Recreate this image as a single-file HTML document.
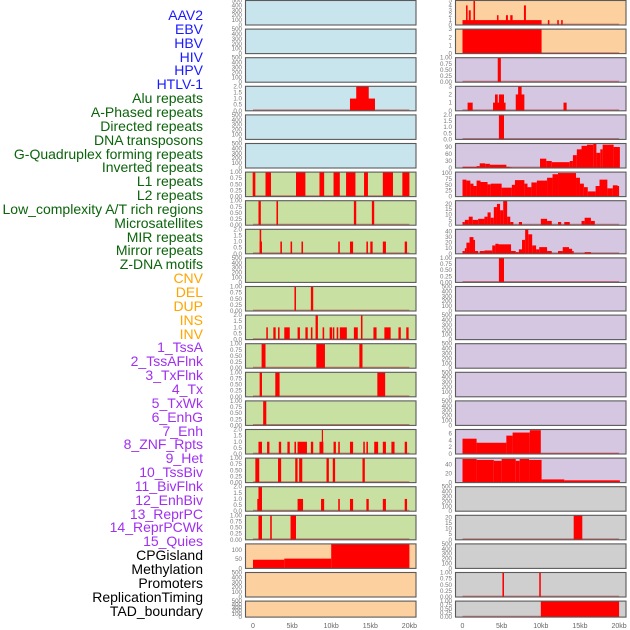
<!DOCTYPE html>
<html><head><meta charset="utf-8">
<style>
html,body{margin:0;padding:0;background:#fff;}
#wrap{position:relative;width:630px;height:630px;overflow:hidden;}
.lbl{position:absolute;right:427px;font-family:"Liberation Sans",sans-serif;font-size:14px;line-height:14px;white-space:nowrap;}
svg{position:absolute;left:0;top:0;}
</style></head>
<body>
<div id="wrap">
<div id="labels"></div>
<svg id="chart" width="630" height="630"></svg>
</div>
<script>
const trackLabels = ["AAV2","EBV","HBV","HIV","HPV","HTLV-1","Alu repeats","A-Phased repeats","Directed repeats","DNA transposons","G-Quadruplex forming repeats","Inverted repeats","L1 repeats","L2 repeats","Low_complexity A/T rich regions","Microsatellites","MIR repeats","Mirror repeats","Z-DNA motifs","CNV","DEL","DUP","INS","INV","1_TssA","2_TssAFlnk","3_TxFlnk","4_Tx","5_TxWk","6_EnhG","7_Enh","8_ZNF_Rpts","9_Het","10_TssBiv","11_BivFlnk","12_EnhBiv","13_ReprPC","14_ReprPCWk","15_Quies","CPGisland","Methylation","Promoters","ReplicationTiming","TAD_boundary"];
const labelGroups = ["v","v","v","v","v","v","r","r","r","r","r","r","r","r","r","r","r","r","r","s","s","s","s","s","c","c","c","c","c","c","c","c","c","c","c","c","c","c","c","o","o","o","o","o"];
const xTickValues = [0,5,10,15,20];
const xTickLabels = ["0","5kb","10kb","15kb","20kb"];

// Left column tracks: [start kb, end kb, value]
const L1 = [], L2 = [], L3 = [];
const L4 = [[12.4,15.6,1],[13.2,14.8,2]];
const L5 = [], L6 = [];
const L7 = [[-0.04,0.3,1],[1.6,2.3,1],[5.5,6.7,1],[8.5,9.1,1],[10.3,11.1,1],[11.9,13.1,1],[14.2,14.7,1],[16.6,17.9,1],[19.1,20,1]];
const L8 = [[0.7,1.0,1],[3.0,3.2,1],[12.9,13.2,1],[15.2,15.5,1]];
const L9 = [[0.85,1.15,1],[0.85,1.05,2],[3.5,3.7,1],[4.8,5.0,1],[6.2,6.4,1],[10.9,11.1,1],[12.4,12.8,1],[14.5,14.7,1],[15.0,15.3,1],[16.6,17.0,1],[19.4,19.7,1]];
const L10 = [];
const L11 = [[5.3,5.5,1],[7.4,7.7,1]];
const L12 = [[1.7,1.9,1],[2.6,2.9,1],[3.2,3.4,1],[4.0,4.7,1],[5.7,6.0,1],[6.7,7.0,1],[7.4,7.6,1],[8.0,8.3,2],[8.9,9.1,1],[9.8,10.1,1],[10.2,10.4,1],[10.7,10.9,1],[11.1,12.0,1],[12.9,13.4,1],[13.8,14.0,2],[15.4,15.8,1],[16.8,17.6,1],[18.6,18.9,1],[19.6,19.9,1]];
const L13 = [[1.1,1.6,1],[8.1,9.2,1],[13.6,14.0,1]];
const L14 = [[0.85,1.15,1],[2.85,3.4,1],[15.9,16.9,1]];
const L15 = [[1.3,1.7,1]];
const L16 = [[0.7,1.15,1],[1.8,2.1,1],[3.3,3.6,1],[4.4,4.7,1],[5.3,5.5,1],[5.7,6.9,1],[7.4,7.7,1],[8.5,9.0,1],[8.8,8.9,2],[10.3,10.6,1],[10.9,11.1,1],[12.4,12.8,1],[14.1,14.3,1],[14.5,14.7,1],[15.5,16.0,1],[16.6,17.0,1],[17.7,18.1,1],[19.4,19.7,1]];
const L17 = [[0.3,0.8,1],[3.2,3.6,1],[5.4,5.7,1],[5.9,6.3,1],[9.4,9.7,1],[10.2,10.5,1],[14.0,14.3,1]];
const L18 = [[0.55,1.15,1],[0.7,1.15,2],[5.7,6.4,1],[8.7,9.1,1],[10.9,11.1,1],[12.4,12.8,1],[14.5,14.8,1],[16.6,17.0,1],[19.4,19.7,1]];
const L19 = [[0.7,1.15,1],[2.2,2.4,1],[4.8,5.5,1]];
const L20 = [[0,4,47],[4,10,53],[10,20,133]];
const L21 = [], L22 = [];

// Right column tracks
const R1 = [[0,10.1,1],[0.45,0.65,4],[0.8,1.05,3],[1.4,1.6,5],[4.4,4.6,2],[5.55,5.8,2],[6.1,6.4,2],[7.85,8.1,4],[10.9,11.1,1],[12.1,12.3,1],[12.6,12.8,1]];
const R2 = [[0,10.1,3]];
const R3 = [[4.5,4.9,1]];
const R4 = [[0.65,1.3,1],[3.9,5.5,1],[4.15,4.5,2],[4.65,5.3,2],[6.8,7.9,2],[7.1,7.55,3],[12.9,13.3,1]];
const R5 = [[4.65,5.3,2]];
const R6 = [[0,1.8,5],[1.8,2.2,8],[2.2,2.9,20],[2.9,3.5,18],[3.5,5.6,14],[5.6,6.0,5],[6.0,6.3,3],[9.9,10.7,40],[10.7,11.4,30],[11.4,13.7,25],[13.7,14.1,30],[14.1,14.6,55],[14.6,15.2,80],[15.2,15.9,95],[15.9,16.7,100],[16.7,17.1,105],[17.1,17.6,65],[17.6,17.9,80],[17.9,19.3,100],[19.3,20.1,90]];
const R7 = [[0,0.5,72],[0.5,1,68],[1,1.4,55],[1.4,1.8,45],[1.8,2.3,68],[2.3,3.2,62],[3.2,3.6,52],[3.6,5,55],[5,6.3,38],[6.3,6.7,50],[6.7,7.9,70],[7.9,8.3,55],[8.3,8.8,40],[8.8,9.5,60],[9.5,10.8,68],[10.8,11.5,80],[11.5,12.2,95],[12.2,14.5,100],[14.5,15,80],[15,15.5,55],[15.5,16,40],[16,17,22],[17,17.5,45],[17.5,18.5,72],[18.5,19.2,35],[19.2,19.8,48],[19.8,20,45]];
const R8 = [[0,0.3,3],[0.3,0.8,5],[0.8,1.3,8],[1.3,2,5],[2,2.8,6],[2.8,3.2,8],[3.2,3.6,12],[3.6,4,7],[4,4.4,17],[4.4,4.8,20],[4.8,5.2,14],[5.2,5.7,23],[5.7,6.1,8],[6.1,6.5,3],[7.2,7.6,3],[10,10.8,6],[10.8,11.4,4],[12.2,12.6,3],[13,13.7,3],[15.2,15.6,4],[15.6,16.4,7],[16.4,16.9,4]];
const R9 = [[0,0.3,5],[0.3,0.5,10],[0.5,0.9,20],[0.9,1.4,30],[1.4,1.6,25],[1.6,2,5],[2.2,2.8,5],[2.8,3.8,6],[3.8,4.2,15],[4.2,4.6,18],[4.6,6.2,17],[6.2,6.8,5],[6.8,7.2,3],[7.2,7.6,8],[7.6,8,25],[8,8.4,44],[8.4,8.9,35],[8.9,9.4,15],[9.4,9.8,8],[9.8,10.8,12],[10.8,11.4,5],[12.2,12.8,5],[12.8,13.6,12],[13.6,14,9],[14,14.2,5],[15.6,16.4,3]];
const R10 = [[4.65,5.3,1]];
const R11 = [], R12 = [], R13 = [], R14 = [], R15 = [];
const R16 = [[0,1.8,4.5],[1.8,5.6,3.3],[5.6,6.4,5.4],[6.4,8.6,6.3],[8.6,10,7],[10,20,0.2]];
const R17 = [[0,1.8,52],[1.8,4,50],[4,5,48],[5,6.8,52],[6.8,7.3,48],[7.3,8.5,52],[8.5,10.1,50],[10.1,13,7],[13,20.1,5]];
const R18 = [];
const R19 = [[14.2,15.3,22]];
const R20 = [];
const R21 = [[5.1,5.3,1],[9.8,10.0,1]];
const R22 = [[10,20,1]];

const leftTracks = [L1,L2,L3,L4,L5,L6,L7,L8,L9,L10,L11,L12,L13,L14,L15,L16,L17,L18,L19,L20,L21,L22];
const rightTracks = [R1,R2,R3,R4,R5,R6,R7,R8,R9,R10,R11,R12,R13,R14,R15,R16,R17,R18,R19,R20,R21,R22];
const leftMax = [500,500,500,2,500,500,1,1,2,500,1,2,1,1,1,2,1,2,1,133,500,500];
const rightMax = [5,3,1,3,2,105,104,23,44,1,500,500,500,500,500,7.2,54,500,22,500,1,1];
const leftTicks = [[0,100,200,300,400,500],[0,100,200,300,400,500],[0,100,200,300,400,500],[0,0.5,1,1.5,2],[0,100,200,300,400,500],[0,100,200,300,400,500],[0,0.25,0.5,0.75,1],[0,0.25,0.5,0.75,1],[0,0.5,1,1.5,2],[0,100,200,300,400,500],[0,0.25,0.5,0.75,1],[0,0.5,1,1.5,2],[0,0.25,0.5,0.75,1],[0,0.25,0.5,0.75,1],[0,0.25,0.5,0.75,1],[0,0.5,1,1.5,2],[0,0.25,0.5,0.75,1],[0,0.5,1,1.5,2],[0,0.25,0.5,0.75,1],[0,50,100],[0,100,200,300,400,500],[0,100,200,300,400,500]];
const rightTicks = [[0,1,2,3,4,5],[0,1,2,3],[0,0.25,0.5,0.75,1],[0,1,2,3],[0,0.5,1,1.5,2],[0,30,60,90],[0,25,50,75,100],[0,5,10,15,20],[0,10,20,30,40],[0,0.25,0.5,0.75,1],[0,100,200,300,400,500],[0,100,200,300,400,500],[0,100,200,300,400,500],[0,100,200,300,400,500],[0,100,200,300,400,500],[0,2,4,6],[0,20,40],[0,100,200,300,400,500],[0,5,10,15,20],[0,100,200,300,400,500],[0,0.25,0.5,0.75,1],[0,0.25,0.5,0.75,1]];
const leftBg = ["#c8e4ec","#c8e4ec","#c8e4ec","#c8e4ec","#c8e4ec","#c8e4ec","#c8e0a2","#c8e0a2","#c8e0a2","#c8e0a2","#c8e0a2","#c8e0a2","#c8e0a2","#c8e0a2","#c8e0a2","#c8e0a2","#c8e0a2","#c8e0a2","#c8e0a2","#fdd09f","#fdd09f","#fdd09f"];
const rightBg = ["#fdd09f","#fdd09f","#d5c6e2","#d5c6e2","#d5c6e2","#d5c6e2","#d5c6e2","#d5c6e2","#d5c6e2","#d5c6e2","#d5c6e2","#d5c6e2","#d5c6e2","#d5c6e2","#d5c6e2","#d5c6e2","#d5c6e2","#cfcfcf","#cfcfcf","#cfcfcf","#cfcfcf","#cfcfcf"];

const groupColor = {v:"#1a1aff",r:"#0b640b",s:"#ffa500",c:"#a030f0",o:"#000000"};
const labelsDiv = document.getElementById('labels');
trackLabels.forEach((t,i)=>{
  const d = document.createElement('div');
  d.className = 'lbl';
  
  
  d.style.top = (8 + i*13.85) + 'px';
  d.style.color = groupColor[labelGroups[i]];
  d.textContent = t;
  labelsDiv.appendChild(d);
});

const NS = "http://www.w3.org/2000/svg";
const svg = document.getElementById('chart');
function mk(tag, attrs, parent){
  const e = document.createElementNS(NS, tag);
  for (const k in attrs) e.setAttribute(k, attrs[k]);
  (parent||svg).appendChild(e);
  return e;
}
function fmt(v, ticks){
  const step = ticks[1]-ticks[0];
  if (step < 0.5 && step!==Math.round(step)) return v.toFixed(2);
  if (step !== Math.round(step)) return v.toFixed(1);
  return String(v);
}
const cols = [
  {x0:245, w:171, z:253, s:7.82, tracks:leftTracks, max:leftMax, ticks:leftTicks, bg:leftBg, name:'left'},
  {x0:455, w:171, z:462.5, s:7.83, tracks:rightTracks, max:rightMax, ticks:rightTicks, bg:rightBg, name:'right'}
];
cols.forEach((c,ci)=>{
  const xScale = kb => c.z + kb*c.s;
  c.tracks.forEach((bars,i)=>{
    const top = 0.5 + i*28.6;
    const h = (i===21) ? 16 : 24.5;
    const g = mk('g', {});
    
    
    const cid = 'clip'+ci+'_'+i;
    const cp = mk('clipPath', {id:cid}, g);
    mk('rect', {x:c.x0, y:top, width:c.w, height:h}, cp);
    const bg = mk('rect', {x:c.x0, y:top, width:c.w, height:h, fill:c.bg[i]}, g);
    
    
    const yScale = v => top + h - (v / c.max[i]) * h;
    const inner = mk('g', {'clip-path':'url(#'+cid+')'}, g);
    if (bars.length) {
      const base = mk('line', {x1:xScale(0), x2:xScale(20), y1:top+h-0.6, y2:top+h-0.6, stroke:'rgba(190,40,40,0.55)', 'stroke-width':1.6}, inner);
      
      
    }
    bars.forEach(b=>{
      const x1 = xScale(b[0]), x2 = xScale(b[1]);
      const y = yScale(b[2]);
      const r = mk('rect', {x:x1, y:y, width:Math.max(1.2,x2-x1), height:top+h-y, fill:'#ff0000'}, inner);
      
      
    });
    mk('rect', {x:c.x0+0.5, y:top, width:c.w-0.5, height:h, fill:'none', stroke:'#5a5a5a', 'stroke-width':1.1}, g);
    c.ticks[i].forEach(tv=>{
      const ty = yScale(tv);
      const t = mk('text', {x:c.x0-3, y:ty+2, 'text-anchor':'end', 'font-family':'Liberation Sans, sans-serif', 'font-size':6.2, fill:'#777'}, g);
      
      
      t.textContent = fmt(tv, c.ticks[i]);
    });
  });
  xTickValues.forEach((v,k)=>{
    const t = mk('text', {x:xScale(v), y:628, 'text-anchor':'middle', 'font-family':'Liberation Sans, sans-serif', 'font-size':7, fill:'#666'});
    
    
    t.textContent = xTickLabels[k];
  });
});
</script>
</body></html>
